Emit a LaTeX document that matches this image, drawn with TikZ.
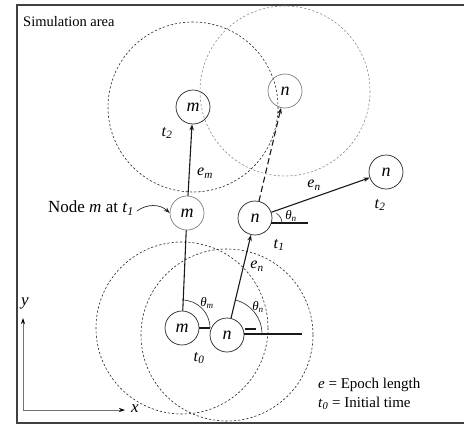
\documentclass[tikz,border=0pt]{standalone}
\usepackage{fontspec}
\setmainfont{Liberation Serif}
\usetikzlibrary{arrows.meta}
\newcommand{\tsub}[2]{\textit{#1}\textsubscript{\textit{#2}}}
\begin{document}
\begin{tikzpicture}[x=1pt,y=-1pt,
  nd/.style={circle,draw=#1,line width=0.7pt,minimum size=34pt,inner sep=0pt,font=\fontsize{18}{18}\selectfont\itshape},
  nd/.default=black!85,
  range/.style={draw=#1,dash pattern=on 2.2pt off 2pt,line width=0.6pt},
  range/.default=black!85,
  mv/.style={line width=1.1pt,draw=black!90},
  tip/.style={-{Stealth[length=6pt,width=4.5pt]}},
  lbl/.style={font=\fontsize{16}{16}\selectfont,inner sep=0pt},
  thin/.style={line width=0.6pt,draw=black!85}]
\useasboundingbox (0,0) rectangle (464,426);
\fill[white] (0,0) rectangle (464,426);
% frame
\draw[line width=1.2pt,draw=black!75] (470,5) -- (17,5) -- (17,423) -- (470,423);
\node[anchor=west,inner sep=0pt,font=\fontsize{14.5}{14.5}\selectfont] (sim) at (23,22) {Simulation area};
% nodes
\node[nd] (mt2) at (193,107) {m};
\node[nd=black!50] (n3) at (285,91) {n};
\node[nd] (nt2) at (386,172) {n};
\node[nd=black!50] (mt1) at (187,213) {m};
\node[nd] (nt1) at (255,218) {n};
\node[nd] (mt0) at (182,328) {m};
\node[nd] (nt0) at (227,335) {n};
% ranges
\draw[range] (mt2.center) circle[radius=85];
\draw[range=black!45] (n3.center) circle[radius=85];
\draw[range] (mt0.center) circle[radius=86];
\draw[range] (nt0.center) circle[radius=86];
% movements
\draw[mv] (mt0) -- (mt1);
\draw[mv,tip] (mt1) -- (mt2);
\draw[mv,tip] (nt0) -- (nt1);
\draw[mv,tip] (nt1) -- (nt2);
\draw[mv,tip,dash pattern=on 6pt off 3.5pt] (nt1) -- (n3);
% angle at m t0
\draw[mv] (mt0.east) -- (mt0.east -| nt0.west);
\draw[thin] (mt0.center) ++(-90:28) arc[start angle=-90,end angle=0,radius=28];
% angle at n t0
\coordinate (n0c) at (227,334);
\draw[mv] (244,334) -- (302,334);
\draw[mv] (245,329) -- (256,329);
\draw[thin] (n0c) ++(-76.6:35) arc[start angle=-76.6,end angle=0,radius=35];
% angle at n t1
\coordinate (n1c) at (271,223);
\draw[mv] (n1c) -- (308,223);
\draw[thin] (n1c) ++(-60:11) arc[start angle=-60,end angle=0,radius=11];
% labels
\node[lbl] (lt2m) at (167,133) {\tsub{t}{2}};
\node[lbl] (lem) at (205,173) {\tsub{e}{m}};
\node[lbl] (len2) at (314,185) {\tsub{e}{n}};
\node[lbl] (lt2n) at (380,205) {\tsub{t}{2}};
\node[lbl] (lt1) at (279,245) {\tsub{t}{1}};
\node[lbl] (len1) at (257,266) {\tsub{e}{n}};
\node[lbl,font=\fontsize{13}{13}\selectfont] (lthn0) at (258,307) {\tsub{θ}{n}};
\node[lbl,font=\fontsize{13}{13}\selectfont] (lthm) at (207,303) {\tsub{θ}{m}};
\node[lbl,font=\fontsize{13}{13}\selectfont] (lthn1) at (291,216) {\tsub{θ}{n}};
\node[lbl] (lt0) at (199,358) {\tsub{t}{0}};
% node m at t1
\node[anchor=east,inner sep=0pt,font=\fontsize{17}{17}\selectfont] (nodem) at (134,208) {Node \textit{m} at \tsub{t}{1}};
\coordinate (cs) at (137,211);
\draw[thin,tip,line width=0.7pt] (cs) to[bend left=40] (mt1.west);
% legend
\node[anchor=west,inner sep=0pt,font=\fontsize{15}{15}\selectfont] (leg1) at (318,385) {\textit{e} = Epoch length};
\node[anchor=west,inner sep=0pt,font=\fontsize{15}{15}\selectfont] (leg2) at (318,403) {\tsub{t}{0} = Initial time};
% axes
\coordinate (o) at (23,410);
\coordinate (xe) at (125,410);
\coordinate (ye) at (23,318);
\draw[line width=0.8pt,draw=black!55,-{Stealth[length=6pt,width=4pt,black]}] (o) -- (xe);
\draw[line width=0.8pt,draw=black!55,-{Stealth[length=6pt,width=4pt,black]}] (o) -- (ye);
\node[lbl,font=\fontsize{17}{17}\selectfont\itshape] (xl) at (135,409) {x};
\node[lbl,font=\fontsize{17}{17}\selectfont\itshape] (yl) at (25,303) {y};
\end{tikzpicture}
\end{document}
